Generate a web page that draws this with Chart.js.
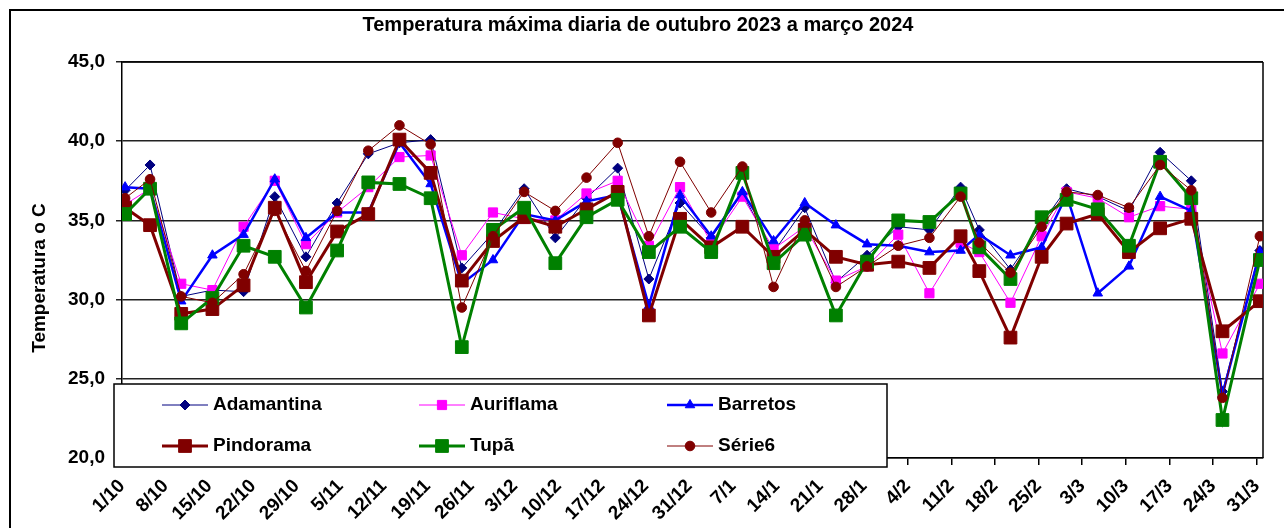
<!DOCTYPE html>
<html><head><meta charset="utf-8">
<script src="https://cdn.jsdelivr.net/npm/chart.js@4.4.0/dist/chart.umd.min.js"></script>
<style>html,body{margin:0;padding:0;background:#fff;overflow:hidden}#wrap{position:relative;width:1284px;height:528px}</style>
</head><body><div id="wrap"><canvas id="c" width="1284" height="528"></canvas></div>
<script>
const chartTitle = "Temperatura máxima diaria de outubro 2023 a março 2024";
const yAxisTitle = "Temperatura o C";
const seriesNames = ["Adamantina", "Auriflama", "Barretos", "Pindorama", "Tupã", "Série6"];
const dates = ["2023-10-01","2023-10-05","2023-10-10","2023-10-15","2023-10-20","2023-10-25","2023-10-30",
  "2023-11-04","2023-11-09","2023-11-14","2023-11-19","2023-11-24","2023-11-29",
  "2023-12-04","2023-12-09","2023-12-14","2023-12-19","2023-12-24","2023-12-29",
  "2024-01-03","2024-01-08","2024-01-13","2024-01-18","2024-01-23","2024-01-28",
  "2024-02-02","2024-02-07","2024-02-12","2024-02-15","2024-02-20","2024-02-25","2024-02-29",
  "2024-03-05","2024-03-10","2024-03-15","2024-03-20","2024-03-25","2024-03-31"];
const tickLabels = ["1/10","8/10","15/10","22/10","29/10","5/11","12/11","19/11","26/11","3/12","10/12","17/12","24/12","31/12",
  "7/1","14/1","21/1","28/1","4/2","11/2","18/2","25/2","3/3","10/3","17/3","24/3","31/3"];
const adamantina = [36.9,38.5,30.2,30.6,30.5,36.5,32.7,36.1,39.2,39.9,40.1,32.0,34.2,37.0,33.9,36.4,38.3,31.3,36.1,33.9,36.7,33.0,35.8,31.1,32.8,34.6,34.4,37.1,34.4,31.9,34.8,37.0,36.5,35.6,39.3,37.5,24.2,33.1];
const auriflama  = [36.0,37.0,31.0,30.6,34.6,37.5,33.5,35.5,37.1,39.0,39.1,32.8,35.5,35.1,35.0,36.7,37.5,33.4,37.1,33.6,36.5,33.2,34.6,31.2,32.1,34.1,30.4,33.6,33.0,29.8,34.0,36.8,36.4,35.2,35.9,35.7,26.6,31.0];
const barretos   = [37.1,37.0,29.9,32.8,34.1,37.6,33.9,35.5,35.5,39.9,37.3,31.0,32.5,35.4,35.0,36.2,36.6,29.6,36.6,34.0,36.8,33.7,36.1,34.7,33.5,33.4,33.0,33.1,34.1,32.8,33.3,36.6,30.4,32.1,36.5,35.6,24.0,33.0];
const pindorama  = [35.8,34.7,29.1,29.4,30.9,35.8,31.1,34.3,35.4,40.1,38.0,31.2,33.7,35.2,34.6,35.7,36.8,29.0,35.1,33.3,34.6,32.7,34.4,32.7,32.2,32.4,32.0,34.0,31.8,27.6,32.7,34.8,35.4,33.0,34.5,35.1,28.0,29.9];
const tupa       = [35.4,37.0,28.5,30.1,33.4,32.7,29.5,33.1,37.4,37.3,36.4,27.0,34.4,35.8,32.3,35.2,36.3,33.0,34.6,33.0,38.0,32.3,34.1,29.0,32.4,35.0,34.9,36.7,33.3,31.3,35.2,36.3,35.7,33.4,38.7,36.4,22.4,32.5];
const serie6     = [36.4,37.6,30.2,29.8,31.6,35.6,31.8,35.6,39.4,41.0,39.8,29.5,34.0,36.8,35.6,37.7,39.9,34.0,38.7,35.5,38.4,30.8,35.0,30.8,32.1,33.4,33.9,36.5,33.6,31.7,34.6,36.8,36.6,35.8,38.5,36.9,23.8,34.0];

const FONT = '"Liberation Sans", Arial, Helvetica, sans-serif';
Chart.defaults.font.family = FONT;

const start = Date.UTC(2023, 9, 1);
const dayPos = dates.map(s => { const p = s.split('-').map(Number); return (Date.UTC(p[0], p[1]-1, p[2]) - start) / 86400000 + 0.5; });
const pts = arr => arr.map((v, i) => ({x: dayPos[i], y: v}));

const styles = [
  {color:'#000080', bw:1,   ps:'rectRot',  r:5,   order:6},
  {color:'#FF00FF', bw:1,   ps:'rect',     r:6.5, order:5},
  {color:'#0000FF', bw:2.5, ps:'triangle', r:5.5, order:4},
  {color:'#800000', bw:3,   ps:'rect',     r:9,   order:3},
  {color:'#008000', bw:3,   ps:'rect',     r:9,   order:2},
  {color:'#800000', bw:1,   ps:'circle',   r:4.8, order:1}
];
const seriesData = [adamantina, auriflama, barretos, pindorama, tupa, serie6];

const datasets = seriesData.map((arr, i) => ({
  label: seriesNames[i], data: pts(arr),
  borderColor: styles[i].color, backgroundColor: styles[i].color,
  pointBackgroundColor: styles[i].color, pointBorderColor: styles[i].color,
  borderWidth: styles[i].bw, pointStyle: styles[i].ps, pointRadius: styles[i].r,
  pointBorderWidth: 1, tension: 0, order: styles[i].order
}));

function marker(ctx, ps, r, x, y, color) {
  ctx.save(); ctx.fillStyle = color; ctx.strokeStyle = color; ctx.lineWidth = 1; ctx.beginPath();
  if (ps === 'rect') { const s = r * Math.SQRT1_2; ctx.rect(x - s, y - s, 2*s, 2*s); }
  else if (ps === 'rectRot') { ctx.moveTo(x, y - r); ctx.lineTo(x + r, y); ctx.lineTo(x, y + r); ctx.lineTo(x - r, y); ctx.closePath(); }
  else if (ps === 'triangle') { ctx.moveTo(x, y - r); ctx.lineTo(x + r*0.866, y + r*0.5); ctx.lineTo(x - r*0.866, y + r*0.5); ctx.closePath(); }
  else { ctx.arc(x, y, r, 0, Math.PI*2); }
  ctx.fill(); ctx.stroke(); ctx.restore();
}

const decor = {
  id: 'decor',
  beforeDraw(chart) {
    const ctx = chart.ctx; ctx.save(); ctx.fillStyle = '#fff'; ctx.fillRect(0, 0, chart.width, chart.height); ctx.restore();
  },
  beforeDatasetsDraw(chart) {
    const ctx = chart.ctx, a = chart.chartArea; ctx.save();
    ctx.strokeStyle = '#000'; ctx.lineWidth = 1.5;
    ctx.beginPath(); ctx.moveTo(a.right, a.top); ctx.lineTo(a.right, a.bottom); ctx.stroke();
    ctx.beginPath(); ctx.moveTo(a.left, a.top); ctx.lineTo(a.right, a.top); ctx.stroke();
    ctx.restore();
  },
  afterDraw(chart) {
    const ctx = chart.ctx; ctx.save();
    ctx.strokeStyle = '#000'; ctx.lineWidth = 2; ctx.strokeRect(10, 10, 1300, 560);
    ctx.fillStyle = '#000'; ctx.font = 'bold 20px ' + FONT; ctx.textAlign = 'center'; ctx.textBaseline = 'middle';
    ctx.fillText(chartTitle, 638, 25);
    ctx.save(); ctx.translate(40, 278); ctx.rotate(-Math.PI/2); ctx.font = 'bold 19px ' + FONT;
    ctx.fillText(yAxisTitle, 0, 0); ctx.restore();
    ctx.fillStyle = '#fff'; ctx.fillRect(114, 384, 773, 83);
    ctx.strokeStyle = '#000'; ctx.lineWidth = 1.5; ctx.strokeRect(114, 384, 773, 83);
    const colX = [162, 419, 667], rowY = [405, 446];
    ctx.font = 'bold 19px ' + FONT; ctx.textAlign = 'left'; ctx.textBaseline = 'middle';
    chart.data.datasets.forEach((ds, i) => {
      const x = colX[i % 3], y = rowY[Math.floor(i / 3)], st = styles[i];
      ctx.strokeStyle = st.color; ctx.lineWidth = st.bw; ctx.beginPath(); ctx.moveTo(x, y); ctx.lineTo(x + 46, y); ctx.stroke();
      marker(ctx, st.ps, st.r, x + 23, y, st.color);
      ctx.fillStyle = '#000'; ctx.fillText(ds.label, x + 51, y);
    });
    ctx.restore();
  }
};

new Chart(document.getElementById('c'), {
  type: 'line',
  data: { datasets },
  options: {
    responsive: false, animation: false, devicePixelRatio: 1,
    layout: { padding: { top: 62, right: 21, bottom: 0, left: 0 } },
    plugins: { legend: { display: false }, title: { display: false }, tooltip: { enabled: false } },
    scales: {
      x: {
        type: 'linear', min: 0, max: 183,
        afterBuildTicks: s => { s.ticks = tickLabels.map((_, i) => ({ value: i * 7 })); },
        afterFit: s => { s.height = 70; },
        ticks: { autoSkip: false, minRotation: 45, maxRotation: 45, padding: 10, color: '#000',
          font: { size: 19, weight: 'bold' }, callback: (v, i) => tickLabels[i] },
        grid: { drawOnChartArea: false, drawTicks: true, tickLength: 7, color: '#000', lineWidth: 1.5 },
        border: { display: true, color: '#000', width: 1.5 }
      },
      y: {
        min: 20, max: 45,
        afterFit: s => { s.width = 122; },
        ticks: { stepSize: 5, padding: 11, color: '#000', font: { size: 19, weight: 'bold' },
          callback: v => v.toFixed(1).replace('.', ',') },
        grid: { color: '#222', lineWidth: 1.5, tickLength: 6, drawTicks: true },
        border: { display: true, color: '#000', width: 1.5 }
      }
    }
  },
  plugins: [decor]
});
</script></body></html>
